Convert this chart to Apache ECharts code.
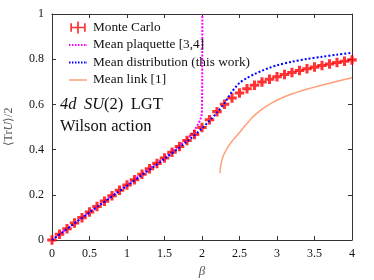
<!DOCTYPE html>
<html><head><meta charset="utf-8">
<script src="https://cdn.jsdelivr.net/npm/echarts@6/dist/echarts.min.js"></script>
<style>html,body{margin:0;padding:0;background:#fff}#c{width:374px;height:280px}</style>
</head><body><div id="c"></div>
<script>
var mcBeta = [0,0.1,0.2,0.3,0.4,0.5,0.6,0.7,0.8,0.9,1.0,1.1,1.2,1.3,1.4,1.5,1.6,1.7,1.8,1.9,2.0,2.1,2.2,2.3,2.4,2.5,2.6,2.7,2.8,2.9,3.0,3.1,3.2,3.3,3.4,3.5,3.6,3.7,3.8,3.9,4.0];
var mcVal = [0,0.025,0.050,0.075,0.099,0.124,0.148,0.172,0.196,0.220,0.243,0.267,0.291,0.315,0.339,0.363,0.388,0.414,0.440,0.467,0.498,0.532,0.568,0.601,0.628,0.650,0.669,0.685,0.699,0.711,0.722,0.732,0.741,0.750,0.758,0.765,0.772,0.779,0.785,0.791,0.797];

var plaqBeta = [0,0.5,1.0,1.5,1.6,1.7,1.8,1.85,1.9,1.95,1.98,1.995,2.0,2.003,2.005];
var plaqVal = [0,0.124,0.244,0.366,0.392,0.419,0.447,0.464,0.486,0.514,0.536,0.555,0.58,0.72,1.0];

var distBeta = [0,0.5,1.0,1.5,1.8,2.0,2.1,2.2,2.3,2.35,2.4,2.45,2.5,2.6,2.7,2.8,2.9,3.0,3.2,3.4,3.6,3.8,4.0];
var distVal = [0,0.122,0.240,0.359,0.436,0.494,0.528,0.564,0.606,0.632,0.656,0.677,0.695,0.717,0.734,0.749,0.762,0.773,0.789,0.801,0.811,0.820,0.828];

var linkBeta = [2.24,2.245,2.255,2.27,2.29,2.33,2.38,2.44,2.53,2.63,2.73,2.85,2.95,3.1,3.25,3.45,3.7,4.0];
var linkVal = [0.296,0.318,0.338,0.358,0.377,0.402,0.428,0.452,0.488,0.527,0.560,0.590,0.610,0.634,0.652,0.672,0.694,0.718];

var xTicks = [0,0.5,1,1.5,2,2.5,3,3.5,4];
var yTicks = [0,0.2,0.4,0.6,0.8,1];

function zip(a,b){return a.map(function(v,i){return [v,b[i]];});}

var serif = 'Liberation Serif';
var axisCol = '#333';
var chart = echarts.init(document.getElementById('c'), null, {renderer:'canvas'});
var plus = 'path://M3.4,0h3.2v3.4h3.4v3.2h-3.4v3.4h-3.2v-3.4h-3.4v-3.2h3.4z';
var ebIcon = 'path://M0,2h2v4h6v-6h2v6h6v-4h2v10h-2v-4h-6v6h-2v-6h-6v4h-2z';
var dotIcon = 'path://M0,5h1.5v2h-1.5zM3,5h1.5v2h-1.5zM6,5h1.5v2h-1.5zM9,5h1.5v2h-1.5zM12,5h1.5v2h-1.5zM15,5h1.5v2h-1.5zM17.5,5h0.5v2h-0.5zM0,0h0.1v0.1h-0.1zM0,11.9h0.1v0.1h-0.1z';
var linkIcon = 'path://M0,5.3h18v1.4h-18zM0,0h0.1v0.1h-0.1zM0,11.9h0.1v0.1h-0.1z';

var common = {
  min:0, splitLine:{show:false},
  axisLine:{show:true, onZero:false, lineStyle:{color:axisCol, width:1}},
  axisTick:{show:true, inside:true, length:4, lineStyle:{color:axisCol}},
  axisLabel:{fontFamily:serif, fontSize:12, color:'#111'}
};

chart.setOption({
  animation:false,
  grid:{left:52, right:22, top:14, bottom:40, outerBoundsMode:'none', containLabel:false},
  legend:{
    orient:'vertical', left:64, top:16, itemGap:4.5, itemWidth:18, itemHeight:12,
    textStyle:{fontFamily:serif, fontSize:13.3, color:'#111', padding:[0,0,0,1]},
    data:[
      {name:'Monte Carlo', icon:ebIcon, itemStyle:{color:'#ff0000'}},
      {name:'Mean plaquette [3,4]', icon:dotIcon, itemStyle:{color:'#ff00ff'}},
      {name:'Mean distribution (this work)', icon:dotIcon, itemStyle:{color:'#0000ff'}},
      {name:'Mean link [1]', icon:linkIcon, itemStyle:{color:'#ffa07a'}}
    ]
  },
  xAxis:[
    Object.assign({}, common, {type:'value', max:4, interval:0.5, position:'bottom',
      name:'β', nameLocation:'middle', nameGap:22,
      nameTextStyle:{fontFamily:serif, fontStyle:'italic', fontSize:13, color:'#555'},
      axisLabel:Object.assign({}, common.axisLabel, {margin:8, formatter:function(v){return xTicks.indexOf(v)>=0?String(v):'';}})}),
    Object.assign({}, common, {type:'value', max:4, interval:0.5, position:'top', axisLabel:{show:false}})
  ],
  yAxis:[
    Object.assign({}, common, {type:'value', max:1, interval:0.2, position:'left',
      name:'{a|⟨Tr}{b|U}{a|⟩/2}', nameLocation:'middle', nameGap:37, nameRotate:90,
      nameTextStyle:{rich:{a:{fontFamily:serif, fontSize:12, color:'#555'}, b:{fontFamily:serif, fontStyle:'italic', fontSize:12, color:'#555'}}},
      axisLabel:Object.assign({}, common.axisLabel, {margin:8, formatter:function(v){return yTicks.indexOf(v)>=0?String(v):'';}})}),
    Object.assign({}, common, {type:'value', max:1, interval:0.2, position:'right', axisLabel:{show:false}})
  ],
  graphic:[
    {type:'text', left:60, top:96, style:{text:'{i|4d} \u2009{i|SU}(2) \u2009LGT', fontFamily:serif, fontSize:16.5, fill:'#111',
      rich:{i:{fontFamily:serif, fontStyle:'italic', fontSize:16.5, fill:'#111'}}}},
    {type:'text', left:60, top:118, style:{text:'Wilson action', fontFamily:serif, fontSize:16.5, fill:'#111'}}
  ],
  series:[
    {name:'Mean link [1]', type:'line', data:zip(linkBeta, linkVal), symbol:'none', smooth:true, z:2,
      lineStyle:{color:'#ffa07a', width:1.5}, itemStyle:{color:'#ffa07a'}},
    {name:'Mean plaquette [3,4]', type:'line', data:zip(plaqBeta, plaqVal), symbol:'none', smooth:0.3, z:3,
      lineStyle:{color:'#ff00ff', width:2, type:[2,1.5]}, itemStyle:{color:'#ff00ff'}},
    {name:'Monte Carlo', type:'scatter', data:zip(mcBeta, mcVal), symbol:plus, symbolSize:9.5, z:4,
      itemStyle:{color:'#ff0000'}},
    {name:'Mean distribution (this work)', type:'line', data:zip(distBeta, distVal), symbol:'none', smooth:0.3, z:5,
      lineStyle:{color:'#0000ff', width:2, type:[2,2]}, itemStyle:{color:'#0000ff'}}
  ]
});
</script></body></html>
